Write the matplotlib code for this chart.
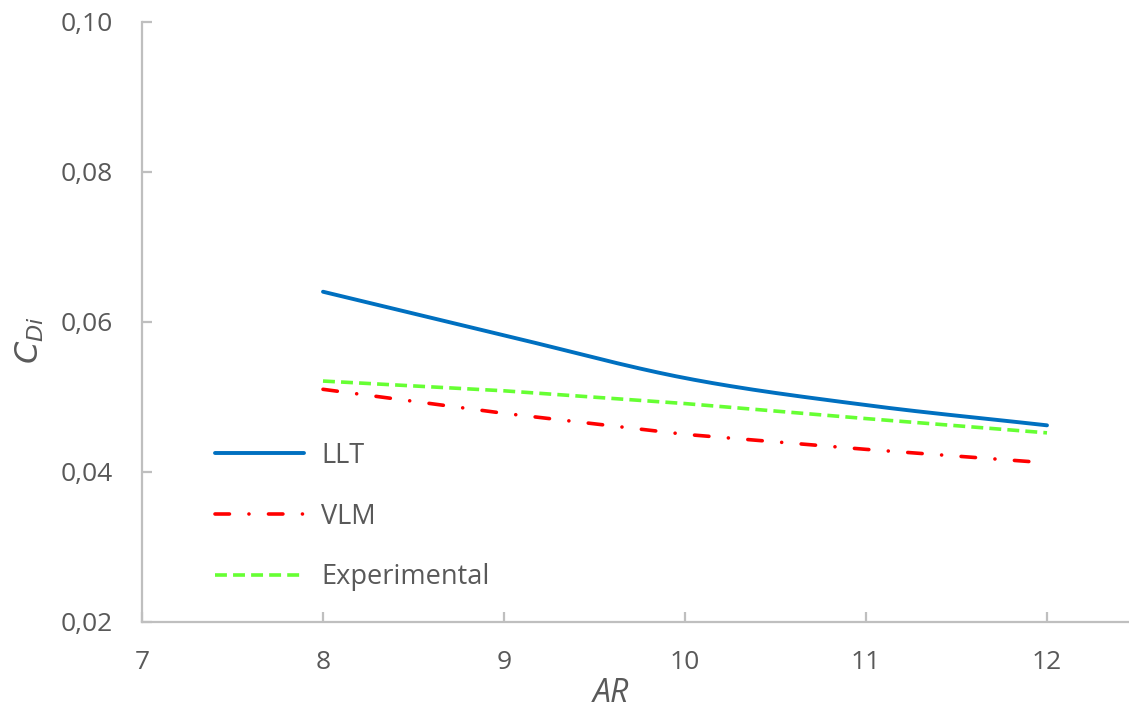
import numpy as np
import matplotlib
matplotlib.use("Agg")
import matplotlib.pyplot as plt

plt.rcParams['font.family'] = ['Open Sans', 'DejaVu Sans']

# Data
ar = [8, 9, 10, 11, 12]
llt = [0.0640, 0.0582, 0.0525, 0.0489, 0.0462]
vlm = [0.0510, 0.0478, 0.0450, 0.0430, 0.0412]
experimental = [0.0521, 0.0508, 0.0491, 0.0471, 0.0452]
series_names = ['LLT', 'VLM', 'Experimental']
x_ticks = [7, 8, 9, 10, 11, 12]
y_ticks = [0.02, 0.04, 0.06, 0.08, 0.10]


def smooth(x, y, n=40):
    """Catmull-Rom rendering of a smoothed line through the data points."""
    x = np.asarray(x, float)
    y = np.asarray(y, float)
    px = np.concatenate([[2 * x[0] - x[1]], x, [2 * x[-1] - x[-2]]])
    py = np.concatenate([[2 * y[0] - y[1]], y, [2 * y[-1] - y[-2]]])
    xs, ys = [], []
    t = np.linspace(0, 1, n, endpoint=False)
    for i in range(1, len(px) - 2):
        for arr, out in ((px, xs), (py, ys)):
            p0, p1, p2, p3 = arr[i - 1], arr[i], arr[i + 1], arr[i + 2]
            out.extend(0.5 * ((2 * p1) + (-p0 + p2) * t
                              + (2 * p0 - 5 * p1 + 4 * p2 - p3) * t ** 2
                              + (-p0 + 3 * p1 - 3 * p2 + p3) * t ** 3))
    xs.append(x[-1])
    ys.append(y[-1])
    return np.array(xs), np.array(ys)


W, H = 1129, 713
fig = plt.figure(figsize=(W / 100, H / 100), dpi=100)
left, bottom = 142 / W, (H - 622) / H
top = (H - 21.5) / H
ax = fig.add_axes([left, bottom, 1 - left, top - bottom])
ax_w_px = W - 142
ax_h_px = 622 - 21.5

text_color = '#595959'
spine_color = '#BFBFBF'

sx, sy = smooth(ar, llt)
ax.plot(sx, sy, color='#0070C0', lw=2.8, solid_capstyle='round', label=series_names[0])
ax.plot(ar, vlm, color='#FF0000', lw=2.6, linestyle=(0, (4, 5.4, 0.01, 5.4)),
        dash_capstyle='round', label=series_names[1])
ax.plot(ar, experimental, color='#66FF33', lw=2.6, linestyle=(0, (3.3, 1.7)),
        label=series_names[2])

ax.set_xlim(7, 7 + ax_w_px / 181.0)
ax.set_ylim(0.02, 0.10)
ax.set_xticks(x_ticks)
ax.set_yticks(y_ticks)
ax.set_yticklabels([f"{v:.2f}".replace('.', ',') for v in y_ticks])
ax.set_xticklabels([str(v) for v in x_ticks])

for s in ['top', 'right']:
    ax.spines[s].set_visible(False)
for s in ['left', 'bottom']:
    ax.spines[s].set_color(spine_color)
    ax.spines[s].set_linewidth(1.6)
ax.tick_params(axis='both', direction='in', length=7, width=1.6, color=spine_color,
               labelcolor=text_color, labelsize=19)
ax.tick_params(axis='y', pad=21)
ax.tick_params(axis='x', pad=20)

ax.set_xlabel('AR', fontsize=23, style='italic', color=text_color, va='center')
ax.xaxis.set_label_coords((611 - 142) / ax_w_px, (622 - 693) / ax_h_px)
ax.set_ylabel(r'$C_{Di}$', fontsize=23, color=text_color, va='center',
              math_fontfamily='dejavusans')
ax.yaxis.set_label_coords((30 - 142) / ax_w_px, (622 - 340) / ax_h_px)

leg = ax.legend(loc='upper left', bbox_to_anchor=(204 / W, (H - 431) / H),
                bbox_transform=fig.transFigure, frameon=False, fontsize=19.5,
                handlelength=3.3, handletextpad=0.62, labelspacing=1.21,
                borderaxespad=0)
for t in leg.get_texts():
    t.set_color(text_color)

fig.savefig('out.png', dpi=100)
